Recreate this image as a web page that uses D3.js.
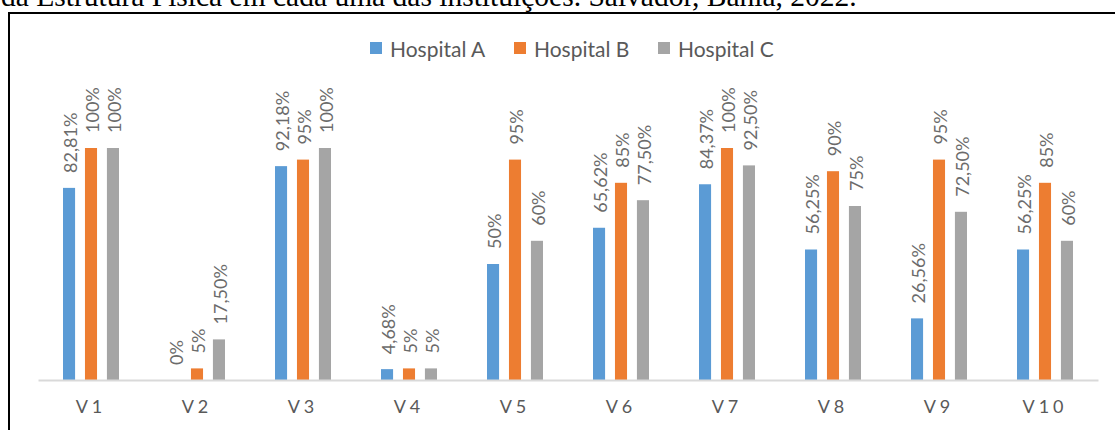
<!DOCTYPE html>
<html>
<head>
<meta charset="utf-8">
<script src="https://cdn.jsdelivr.net/npm/d3@7"></script>
<style>
  body { margin: 0; background: #fff; }
  svg { display: block; }
</style>
</head>
<body>
<svg width="1115" height="430"></svg>
<script>
// data
const categories = ["V1", "V2", "V3", "V4", "V5", "V6", "V7", "V8", "V9", "V10"];
const seriesNames = ["Hospital A", "Hospital B", "Hospital C"];
const hospitalA = [82.81, 0, 92.18, 4.68, 50, 65.62, 84.37, 56.25, 26.56, 56.25];
const hospitalB = [100, 5, 95, 5, 95, 85, 100, 90, 95, 85];
const hospitalC = [100, 17.5, 100, 5, 60, 77.5, 92.5, 75, 72.5, 60];
const colors = ["#5B9BD5", "#ED7D31", "#A5A5A5"];
const title = "da Estrutura Física em cada uma das instituições. Salvador, Bahia, 2022.";

const svg = d3.select("svg");
const font = "Lato, 'Open Sans', sans-serif";

//caption line cut at the top
svg.append("text")
    .attr("x", 1)
    .attr("y", 6)
    .attr("font-family", "'Liberation Serif', 'Times New Roman', serif")
    .attr("font-size", 29.5)
    .attr("fill", "#000")
    .text(title);

//frame of the chart (only top and left show)
svg.append("path")
    .attr("d", "M9,430V13H1115")
    .attr("fill", "none")
    .attr("stroke", "#000")
    .attr("stroke-width", 2);

const plot = { left: 38, right: 1098, top: 148, bottom: 380 };

const x = d3.scaleBand()
    .domain(categories)
    .range([plot.left, plot.right]);

const inner = d3.scaleBand()
    .domain(seriesNames)
    .range([-28, 28])
    .paddingInner(0.45);

const y = d3.scaleLinear()
    .domain([0, 100])
    .range([plot.bottom, plot.top]);

const rows = categories.map((c, i) => ({
    cat: c,
    vals: [hospitalA[i], hospitalB[i], hospitalC[i]]
}));

//bars
const groups = svg.selectAll("g.cat")
    .data(rows)
    .enter()
    .append("g")
    .attr("class", "cat")
    .attr("transform", d => `translate(${x(d.cat) + x.bandwidth() / 2},0)`);

groups.selectAll("rect")
    .data(d => d.vals.map((v, k) => ({ v, k })))
    .enter()
    .append("rect")
    .attr("x", d => inner(seriesNames[d.k]))
    .attr("width", inner.bandwidth())
    .attr("y", d => y(d.v))
    .attr("height", d => y(0) - y(d.v))
    .attr("fill", d => colors[d.k]);

//labels on top of bars, rotated
const fmt = v => {
    if (Number.isInteger(v)) return v + "%";
    return d3.format(".2f")(v).replace(".", ",") + "%";
};

groups.selectAll("text.lbl")
    .data(d => d.vals.map((v, k) => ({ v, k })))
    .enter()
    .append("text")
    .attr("class", "lbl")
    .attr("transform", d => `translate(${inner(seriesNames[d.k]) + inner.bandwidth() / 2 + 1},${y(d.v) - 15}) rotate(-90)`)
    .attr("dominant-baseline", "central")
    .attr("font-family", font)
    .attr("font-size", 18)
    .attr("fill", "#6b6b6b")
    .text(d => fmt(d.v));

//x axis
const xAxis = svg.append("g")
    .attr("transform", `translate(0,${plot.bottom})`)
    .call(d3.axisBottom(x).tickSize(0).tickPadding(20));
xAxis.select(".domain").attr("stroke", "#D9D9D9").attr("stroke-width", 2);
xAxis.selectAll("text")
    .attr("font-family", font)
    .attr("font-size", 18)
    .attr("fill", "#595959")
    .attr("letter-spacing", "4px");

//legend
const legendX = [370, 514, 658];
const legend = svg.selectAll("g.leg")
    .data(seriesNames)
    .enter()
    .append("g")
    .attr("class", "leg")
    .attr("transform", (d, i) => `translate(${legendX[i]},48)`);
legend.append("rect")
    .attr("x", 0)
    .attr("y", -6)
    .attr("width", 12)
    .attr("height", 12)
    .attr("fill", (d, i) => colors[i]);
legend.append("text")
    .attr("x", 20)
    .attr("y", 0)
    .attr("dominant-baseline", "central")
    .attr("font-family", font)
    .attr("font-size", 21)
    .attr("fill", "#595959")
    .text(d => d);
</script>
</body>
</html>
